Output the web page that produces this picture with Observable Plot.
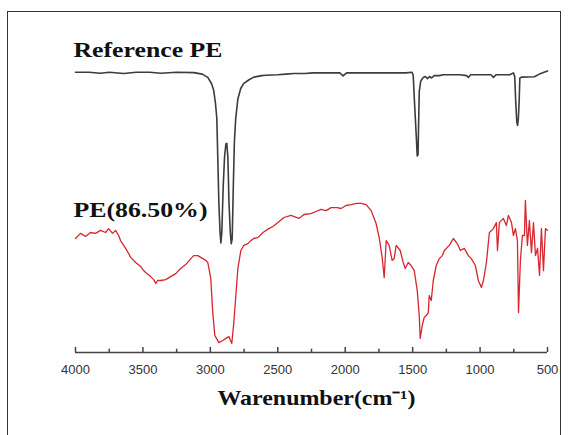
<!DOCTYPE html>
<html>
<head>
<meta charset="utf-8">
<script src="https://cdn.jsdelivr.net/npm/d3@7"></script>
<script src="https://cdn.jsdelivr.net/npm/@observablehq/plot@0.6"></script>
<style>
  html, body { margin: 0; padding: 0; background: #fff; }
  #wrap { position: relative; width: 571px; height: 435px; overflow: hidden; }
  #frame { position: absolute; left: 7px; top: 11px; width: 554px; height: 440px; border: 1px solid #333; box-sizing: border-box; pointer-events: none; }
  #chart { position: absolute; left: 0; top: 0; }
</style>
</head>
<body>
<div id="wrap"><div id="chart"></div><div id="frame"></div></div>
<script>
// Reference PE spectrum (wavenumber cm-1, relative transmittance)
const refWave = [4000,3900,3814,3750,3643,3550,3450,3368,3250,3123,3060,3019,2990,2975,2962,2952,2945,2937,2928,2922,2915,2905,2895,2885,2878,2870,2862,2852,2845,2838,2830,2822,2812,2796,2775,2752,2710,2677,2620,2588,2500,2440,2380,2300,2239,2100,2040,2016,1990,1850,1700,1550,1505,1496,1488,1480,1473,1466,1460,1455,1451,1440,1421,1405,1390,1375,1360,1340,1302,1273,1150,1100,1087,1070,1000,920,901,880,780,753,743,736,728,722,716,710,705,690,597,560,500];
const refT    = [93.4,93.4,93.1,93.4,93.0,93.4,93.4,93.1,93.4,93.3,92.8,91.7,89.5,87.3,83,78,65,50,40,36.5,40,55,65,69.5,69.7,65,50,40,36.3,38,55,70,78,84.5,88,89.7,91,91.8,92.3,92.4,92.6,92.8,93.0,93.0,93.2,93.2,93.2,92.2,93.2,93.2,93.2,93.2,93.4,92.5,85,78,72,65.5,66,78,87,90.5,91.7,92,91.3,92,91.5,92.3,92.3,92.6,92.6,92.3,91.7,92.6,92.6,92.6,91.7,92.6,92.6,93.2,92,84,77,75.7,78,84,91.5,91.8,91.9,92.8,93.8];

// PE(86.50%) spectrum
const peWave = [4000,3963,3926,3889,3851,3814,3777,3755,3725,3703,3680,3666,3628,3606,3591,3554,3517,3495,3480,3443,3420,3405,3391,3368,3331,3294,3257,3220,3183,3145,3123,3093,3071,3034,3019,2997,2982,2967,2937,2908,2885,2863,2841,2826,2811,2796,2774,2752,2722,2700,2677,2648,2610,2566,2536,2499,2454,2402,2343,2306,2254,2217,2179,2142,2105,2060,2031,1994,1956,1919,1882,1845,1808,1771,1748,1726,1711,1696,1674,1652,1637,1622,1592,1570,1555,1533,1511,1488,1466,1451,1444,1429,1414,1399,1384,1377,1362,1347,1325,1302,1280,1265,1228,1198,1169,1146,1117,1087,1065,1035,1013,990,975,953,931,901,879,871,857,827,805,790,767,753,738,723,715,701,686,671,664,649,634,619,604,589,574,559,545,530,515,500];
const peT    = [38.0,39.7,38.7,40.0,39.7,40.7,40.0,41.3,39.7,40.7,39.0,37.3,34.7,33.0,31.7,30.0,28.7,27.3,26.7,25.3,24.3,23.0,24.0,24.0,24.3,25.3,26.3,28.0,29.3,31.3,32.3,32.3,31.7,30.7,30.0,24.7,13.3,5.7,3.3,4.0,4.7,5.3,3.0,10.0,19.0,28.0,34.0,35.7,36.3,37.3,38.0,38.3,40.0,41.3,42.0,43.3,45.0,45.7,44.7,46.0,46.3,47.0,47.7,47.3,48.3,48.3,48.0,49.0,49.3,49.7,49.7,49.3,47.3,43.0,38.3,31.7,25.0,37.3,35.7,30.7,31.3,35.7,34.0,30.0,28.0,30.0,29.0,27.3,20.7,12.3,4.7,9.0,11.7,12.3,13.3,19.0,17.3,24.0,29.0,31.3,32.3,34.0,35.7,38.0,36.3,34.0,34.7,32.3,31.3,29.0,24.0,21.7,24.0,30.0,40.0,41.3,43.3,34.0,43.3,44.7,42.3,45.7,43.3,39.0,41.3,37.3,13.3,30.7,39.0,39.0,50.7,35.7,44.0,33.3,43.3,32.3,34.7,25.7,41.3,27.3,41.3,40.7];

const majorTicks = [4000,3500,3000,2500,2000,1500,1000,500];
const minorTicks = [3750,3250,2750,2250,1750,1250,750];
const seriesLabels = ["Reference PE", "PE(86.50%)"];
const labelWave = [4015, 4015];
const labelT = [100.8, 47.3];
const axisTitle = "Warenumber(cm\u207B\u00B9)";

const refData = refWave.map((w, i) => ({w, t: refT[i]}));
const peData = peWave.map((w, i) => ({w, t: peT[i]}));
const labelData = seriesLabels.map((s, i) => ({s, w: labelWave[i], t: labelT[i]}));

const serif = "'Liberation Serif', 'Times New Roman', serif";
const sans = "'Liberation Sans', Arial, sans-serif";

const chart = Plot.plot({
  width: 571,
  height: 435,
  marginLeft: 75,
  marginRight: 24,
  marginTop: 52,
  marginBottom: 83,
  x: {domain: [4000, 500], axis: null},
  y: {domain: [0, 100], axis: null},
  marks: [
    Plot.ruleY([0], {stroke: "#444", strokeWidth: 1.5}),
    Plot.ruleX(majorTicks, {x: d => d, y1: 0, y2: 1.7, stroke: "#444", strokeWidth: 1.5}),
    Plot.ruleX(minorTicks, {x: d => d, y1: 0, y2: 1.1, stroke: "#444", strokeWidth: 1.5}),
    Plot.text(majorTicks, {x: d => d, y: 0, dy: 17, text: d => String(d), fontSize: 13, fill: "#333", fontFamily: sans, lineAnchor: "middle"}),
    Plot.line(refData, {x: "w", y: "t", stroke: "#3c3c3c", strokeWidth: 1.6, curve: "linear"}),
    Plot.line(peData, {x: "w", y: "t", stroke: "#d8262e", strokeWidth: 1.3, curve: "linear"}),
    Plot.text(labelData, {x: "w", y: "t", text: "s", textAnchor: "start", lineAnchor: "middle", fontSize: 21, fontWeight: "bold", fontFamily: serif, fill: "#111"}),
    Plot.text([axisTitle], {frameAnchor: "bottom", dx: 5, dy: 46, text: d => d, lineAnchor: "middle", fontSize: 21, fontWeight: "bold", fontFamily: serif, fill: "#111"})
  ]
});

// stretch text horizontally to match the reference's wide rendering
const lengths = {"Reference PE": 149, "PE(86.50%)": 134};
lengths[axisTitle] = 198;
chart.querySelectorAll("text").forEach(t => {
  const L = lengths[t.textContent];
  if (L) { t.setAttribute("textLength", L); t.setAttribute("lengthAdjust", "spacingAndGlyphs"); }
});

document.getElementById("chart").appendChild(chart);
</script>
</body>
</html>
